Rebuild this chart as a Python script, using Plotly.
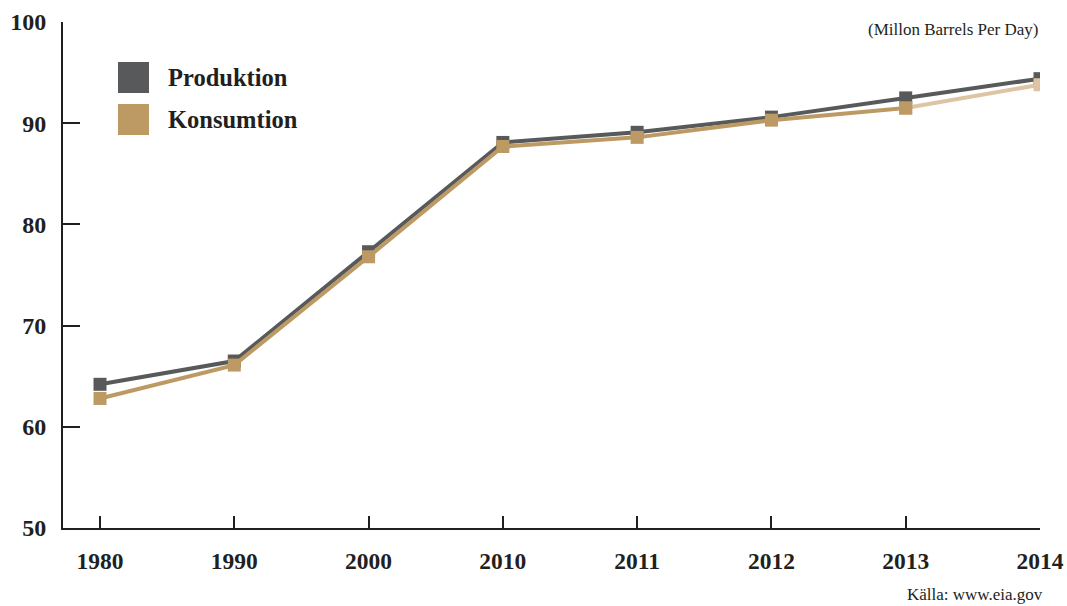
import plotly.graph_objects as go

years = ["1980", "1990", "2000", "2010", "2011", "2012", "2013", "2014"]
produktion = [64.2, 66.5, 77.3, 88.1, 89.1, 90.6, 92.5, 94.4]
konsumtion = [62.8, 66.1, 76.8, 87.7, 88.6, 90.3, 91.5, 93.8]
y_ticks = [50, 60, 70, 80, 90, 100]

C_PROD = "#58595B"
C_KONS = "#BD9A64"
C_KONS_LIGHT = "#DDC5A4"
C_AXIS = "#231F20"
FONT = "Liberation Serif"

fig = go.Figure()
fig.add_trace(go.Scatter(
    x=years, y=produktion, mode="lines+markers", name="Produktion",
    line=dict(color=C_PROD, width=4),
    marker=dict(symbol="square", size=13, color=C_PROD),
    showlegend=False,
))
# Konsumtion: solid part up to 2013, lighter last segment to 2014
fig.add_trace(go.Scatter(
    x=years[-2:], y=konsumtion[-2:], mode="lines+markers",
    line=dict(color=C_KONS_LIGHT, width=4),
    marker=dict(symbol="square", size=13, color=[C_KONS, C_KONS_LIGHT]),
    showlegend=False,
))
fig.add_trace(go.Scatter(
    x=years[:-1], y=konsumtion[:-1], mode="lines+markers", name="Konsumtion",
    line=dict(color=C_KONS, width=4),
    marker=dict(symbol="square", size=13, color=C_KONS),
    showlegend=False,
))

PW, PH, L, T = 977.0, 506.0, 63, 22

# legend (drawn manually)
legend_items = [("Produktion", C_PROD), ("Konsumtion", C_KONS)]
shapes = []
annotations = []
for i, (name, col) in enumerate(legend_items):
    y0 = 1 - (62 + 42 * i - T) / PH
    shapes.append(dict(type="rect", xref="paper", yref="paper",
                       x0=(118 - L) / PW, x1=(149 - L) / PW,
                       y0=y0 - 31 / PH, y1=y0,
                       fillcolor=col, line=dict(width=0)))
    annotations.append(dict(xref="paper", yref="paper",
                            x=(166 - L) / PW, y=y0 - 15.5 / PH,
                            text="<b>%s</b>" % name, showarrow=False,
                            xanchor="left", yanchor="middle",
                            font=dict(family=FONT, size=24.5, color=C_AXIS)))

annotations.append(dict(xref="paper", yref="paper", x=(1040 - L) / PW,
                        y=1 - (29 - T) / PH, text="(Millon Barrels Per Day)",
                        showarrow=False, xanchor="right", yanchor="middle",
                        font=dict(family=FONT, size=17, color=C_AXIS)))
annotations.append(dict(xref="paper", yref="paper", x=(1045 - L) / PW,
                        y=-(606 - 528) / PH, text="Källa: www.eia.gov",
                        showarrow=False, xanchor="right", yanchor="bottom",
                        font=dict(family=FONT, size=17, color=C_AXIS)))

fig.update_layout(
    width=1067, height=606,
    margin=dict(l=L, r=27, t=T, b=78),
    plot_bgcolor="white", paper_bgcolor="white",
    font=dict(family=FONT, color=C_AXIS),
    shapes=shapes, annotations=annotations,
    xaxis=dict(type="category", range=[-0.2755, 7], showgrid=False, zeroline=False,
               automargin=False,
               showline=True, linecolor=C_AXIS, linewidth=2,
               ticks="inside", ticklen=12, tickwidth=2, tickcolor=C_AXIS,
               tickfont=dict(family=FONT, size=23.5, color=C_AXIS, weight="bold"),
               ticklabelstandoff=11),
    yaxis=dict(range=[50, 100], tickvals=y_ticks, showgrid=False, zeroline=False,
               automargin=False,
               showline=True, linecolor=C_AXIS, linewidth=2,
               ticks="inside", ticklen=17, tickwidth=2, tickcolor=C_AXIS,
               tickfont=dict(family=FONT, size=24, color=C_AXIS, weight="bold"),
               ticklabelstandoff=10),
)

fig.write_html("out.html")
